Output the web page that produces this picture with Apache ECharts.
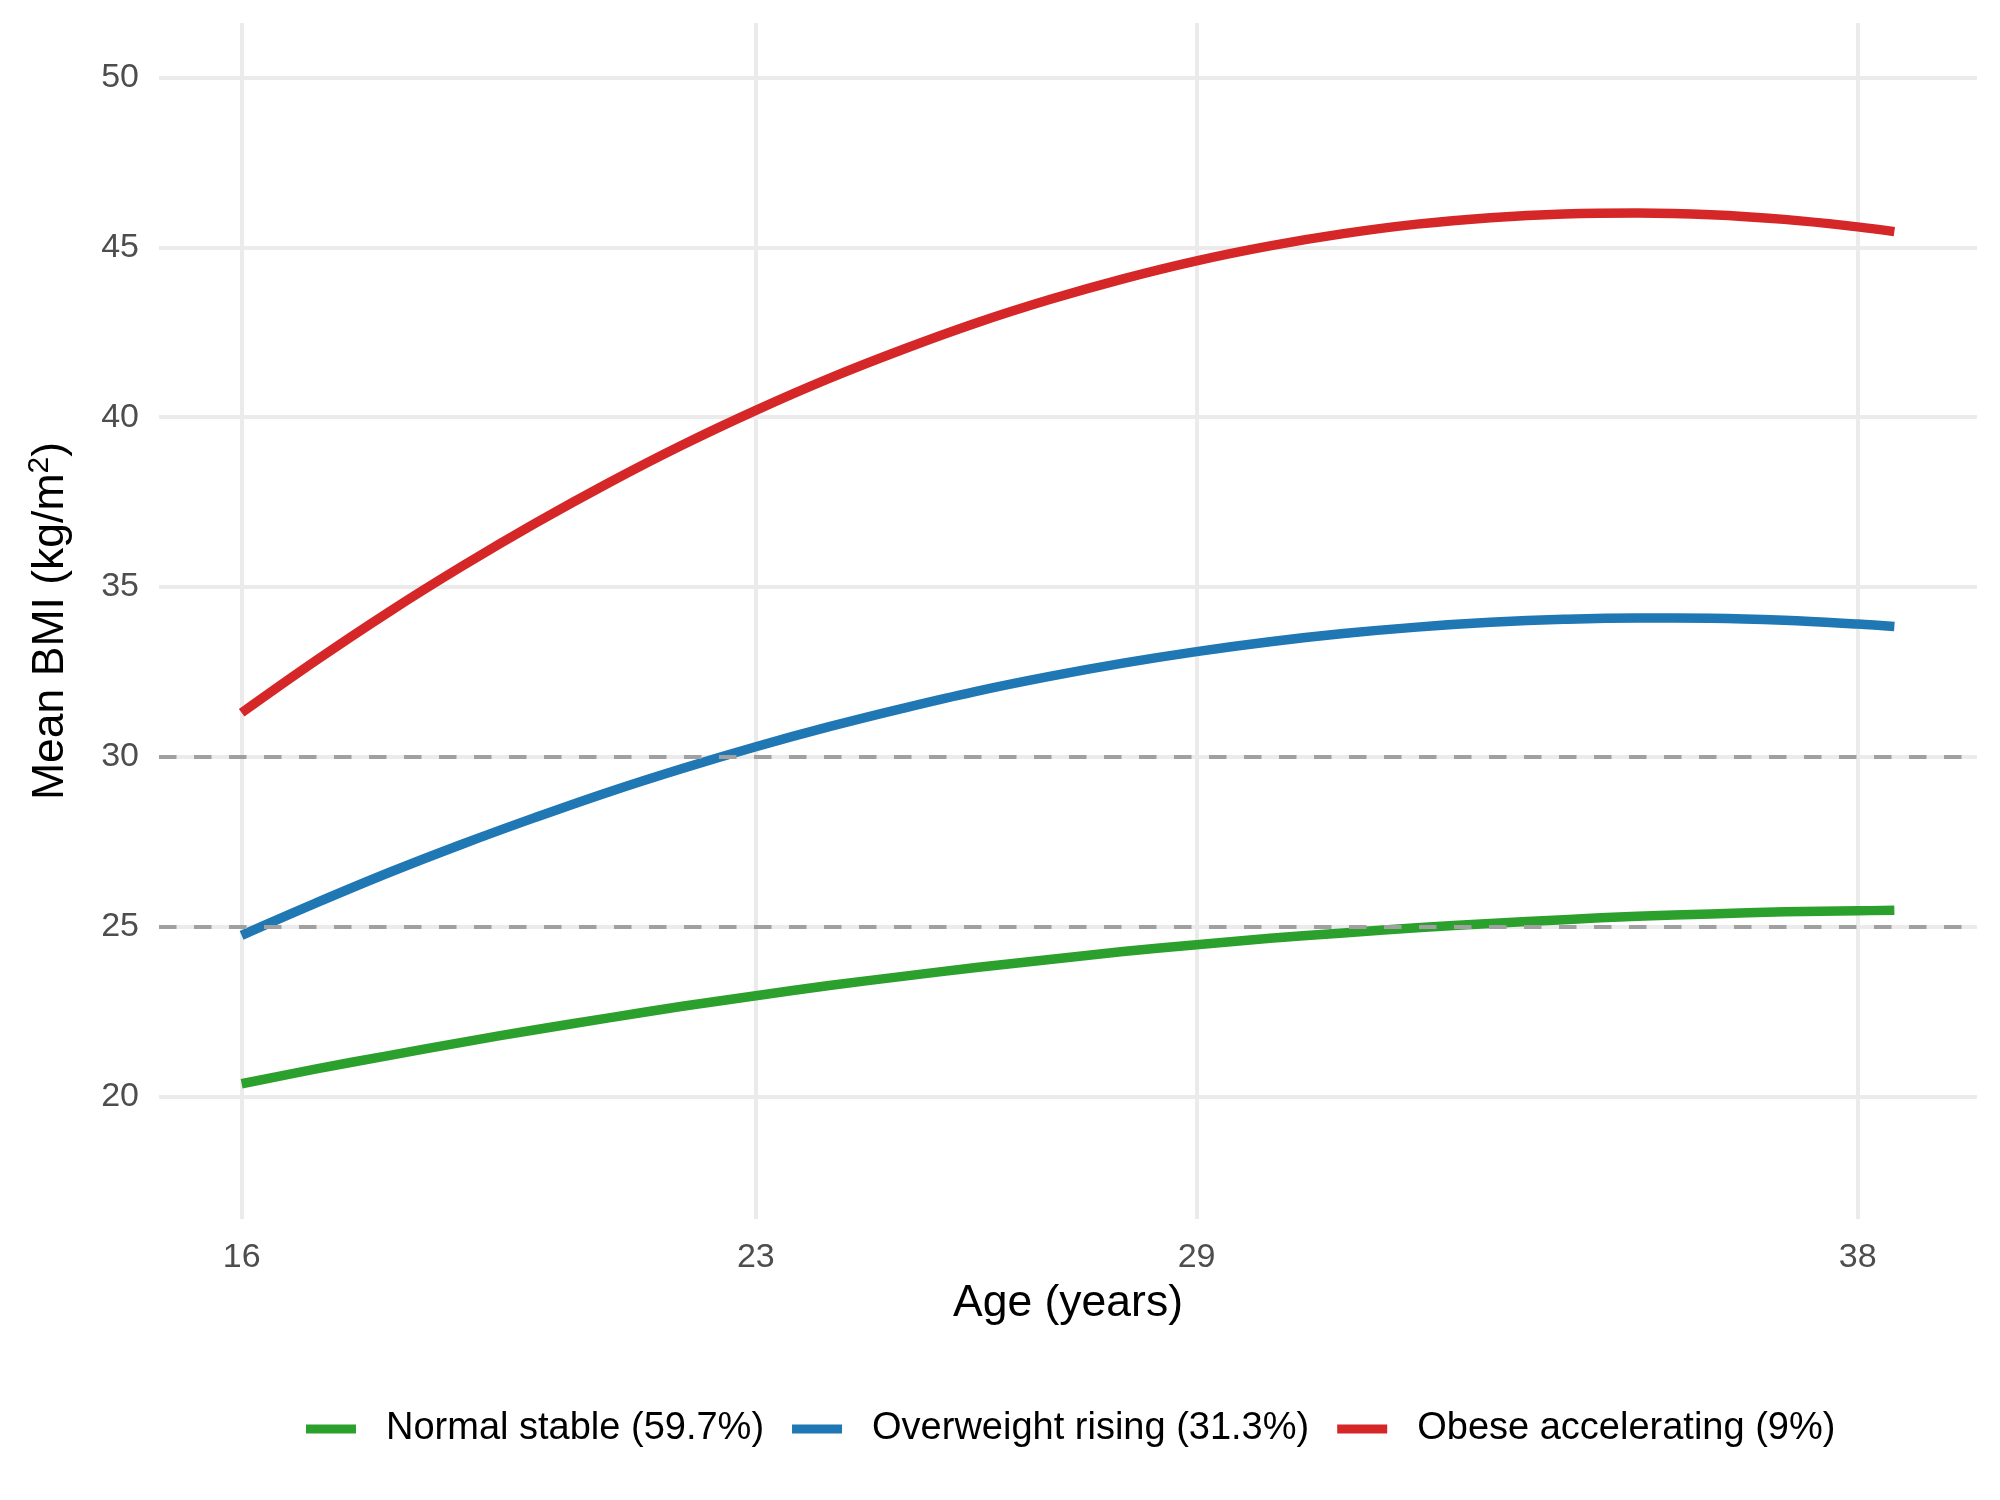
<!DOCTYPE html>
<html>
<head>
<meta charset="utf-8">
<title>Mean BMI trajectories</title>
<script src="https://cdn.jsdelivr.net/npm/echarts@6/dist/echarts.min.js"></script>
<style>
  html, body { margin: 0; padding: 0; background: #fff; }
  #chart { width: 2000px; height: 1500px; }
</style>
</head>
<body>
<div id="chart"></div>
<script>
// ages (years) at which the trajectories were read
var ages = [16, 17, 18, 19, 20, 21, 22, 23, 24, 25, 26, 27, 28, 29, 30, 31, 32, 33, 34, 35, 36, 37, 38, 38.5];

// mean BMI per class
var normalStable = [20.38, 20.81, 21.21, 21.60, 21.97, 22.32, 22.66, 22.97, 23.27, 23.54, 23.80, 24.04,
  24.27, 24.47, 24.66, 24.82, 24.97, 25.10, 25.21, 25.31, 25.38, 25.44, 25.47, 25.49];
var overweightRising = [24.75, 25.69, 26.59, 27.43, 28.22, 28.97, 29.66, 30.30, 30.89, 31.43, 31.93, 32.37,
  32.76, 33.10, 33.39, 33.63, 33.82, 33.96, 34.05, 34.09, 34.08, 34.02, 33.91, 33.84];
var obeseAccelerating = [31.30, 32.82, 34.26, 35.61, 36.88, 38.07, 39.18, 40.20, 41.14, 41.99, 42.77, 43.46,
  44.07, 44.60, 45.04, 45.40, 45.68, 45.87, 45.98, 46.01, 45.96, 45.82, 45.60, 45.46];

var classNames = ['Normal stable (59.7%)', 'Overweight rising (31.3%)', 'Obese accelerating (9%)'];
var classColors = ['#2ca02c', '#1f77b4', '#d62728'];

// axis ticks and reference lines
var xTicks = [16, 23, 29, 38];
var yTicks = [20, 25, 30, 35, 40, 45, 50];
var cutoffs = [25, 30];

var font = '"Liberation Sans", Arial, Helvetica, sans-serif';

function pairs(xs, ys) {
  return xs.map(function (x, i) { return [x, ys[i]]; });
}

var seriesValues = [normalStable, overweightRising, obeseAccelerating];

var series = [{
  name: 'cutoffs',
  type: 'line',
  data: [],
  silent: true,
  z: 1,
  markLine: {
    silent: true,
    symbol: ['none', 'none'],
    label: { show: false },
    lineStyle: { color: '#a0a0a0', width: 4, type: [17.5, 17.5] },
    emphasis: { disabled: true },
    data: cutoffs.map(function (v) { return { yAxis: v }; })
  }
}];

seriesValues.forEach(function (vals, i) {
  series.push({
    name: classNames[i],
    type: 'line',
    data: pairs(ages, vals),
    showSymbol: false,
    symbol: 'none',
    smooth: 0.4,
    z: 2 + i,
    color: classColors[i],
    lineStyle: { width: 9.5, color: classColors[i], cap: 'butt', join: 'round' },
    emphasis: { disabled: true }
  });
});

var chart = echarts.init(document.getElementById('chart'));
chart.setOption({
  animation: false,
  backgroundColor: '#ffffff',
  textStyle: { fontFamily: font },
  grid: { left: 159, right: 23, top: 23, bottom: 281 },
  legend: {
    data: classNames,
    left: 306,
    top: 1410,
    padding: 0,
    icon: 'rect',
    itemWidth: 50,
    itemHeight: 9,
    itemGap: 28,
    selectedMode: false,
    textStyle: { fontFamily: font, fontSize: 38, color: '#000', padding: [0, 0, 0, 25] }
  },
  xAxis: {
    type: 'value',
    min: 14.875,
    max: 39.625,
    name: 'Age (years)',
    nameLocation: 'middle',
    nameGap: 62,
    nameTextStyle: { fontFamily: font, fontSize: 44.5, color: '#000' },
    axisLine: { show: false },
    axisTick: { show: false, customValues: xTicks },
    axisLabel: { customValues: xTicks, fontFamily: font, fontSize: 34, color: '#4d4d4d', margin: 22 },
    splitLine: { show: true, lineStyle: { color: '#ebebeb', width: 4 } }
  },
  yAxis: {
    type: 'value',
    min: 16.4,
    max: 51.6,
    name: '{a|Mean BMI (kg/m}{s|2}{a|)}',
    nameLocation: 'middle',
    nameGap: 82,
    nameRotate: 90,
    nameTextStyle: {
      rich: {
        a: { fontFamily: font, fontSize: 44.5, color: '#000', lineHeight: 52 },
        s: { fontFamily: font, fontSize: 30, color: '#000', lineHeight: 52, verticalAlign: 'top', padding: [0, 0, 17, 0] }
      }
    },
    axisLine: { show: false },
    axisTick: { show: false, customValues: yTicks },
    axisLabel: { customValues: yTicks, fontFamily: font, fontSize: 34, color: '#4d4d4d', margin: 20 },
    splitLine: { show: true, lineStyle: { color: '#ebebeb', width: 4 } }
  },
  series: series
});
</script>
</body>
</html>
